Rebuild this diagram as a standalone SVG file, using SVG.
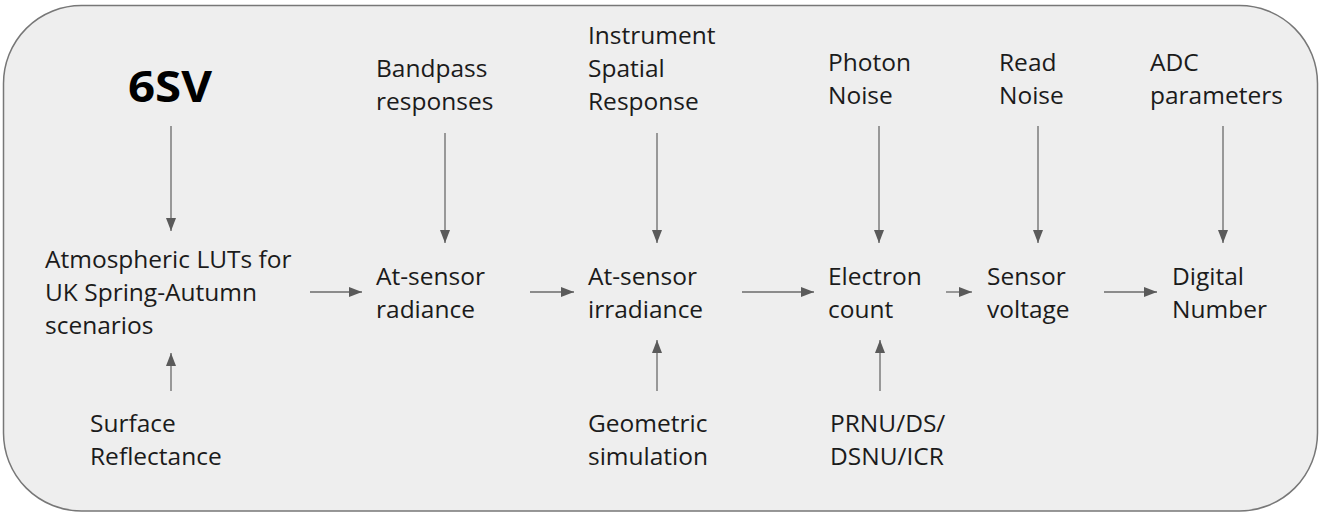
<svg xmlns="http://www.w3.org/2000/svg" width="1319" height="513" viewBox="0 0 1319 513">
<style>
.t{font-family:"Open Sans","Liberation Sans",sans-serif;font-size:24.5px;fill:#1b1b1b}
.b{font-family:"Open Sans","Liberation Sans",sans-serif;font-size:43px;font-weight:700;fill:#000}
.c{stroke:#6a6a6a;stroke-width:1.3;fill:none;marker-end:url(#ah)}
</style>
<defs>
<marker id="ah" markerUnits="userSpaceOnUse" markerWidth="13" markerHeight="10" refX="13" refY="5" orient="auto">
<path d="M0,0 L13,5 L0,10 z" fill="#5a5a5a"/>
</marker>
</defs>
<rect x="3.5" y="5.5" width="1314" height="505.5" rx="78" ry="78" fill="#eeeeee" stroke="#777" stroke-width="1.5"/>
<g id="connectors">
<line class="c" x1="171" y1="126" x2="171" y2="231"/>
<line class="c" x1="171" y1="391" x2="171" y2="353"/>
<line class="c" x1="445" y1="133" x2="445" y2="243"/>
<line class="c" x1="657" y1="133" x2="657" y2="243"/>
<line class="c" x1="879" y1="126" x2="879" y2="243"/>
<line class="c" x1="1038" y1="126" x2="1038" y2="243"/>
<line class="c" x1="1223" y1="126" x2="1223" y2="243"/>
<line class="c" x1="657" y1="391" x2="657" y2="340"/>
<line class="c" x1="880" y1="391" x2="880" y2="340"/>
<line class="c" x1="310" y1="292" x2="362" y2="292"/>
<line class="c" x1="530" y1="292" x2="574" y2="292"/>
<line class="c" x1="742" y1="292" x2="814" y2="292"/>
<line class="c" x1="946" y1="292" x2="972" y2="292"/>
<line class="c" x1="1104" y1="292" x2="1157" y2="292"/>
</g>
<g id="n6sv"><text class="b" x="128" y="102" textLength="84" lengthAdjust="spacingAndGlyphs">6SV</text></g>
<g id="bandpass"><text class="t"><tspan x="376" y="77">Bandpass</tspan><tspan x="376" y="110">responses</tspan></text></g>
<g id="isr"><text class="t"><tspan x="588" y="44">Instrument</tspan><tspan x="588" y="77">Spatial</tspan><tspan x="588" y="110">Response</tspan></text></g>
<g id="photon"><text class="t"><tspan x="828" y="71">Photon</tspan><tspan x="828" y="104">Noise</tspan></text></g>
<g id="read"><text class="t"><tspan x="999" y="71">Read</tspan><tspan x="999" y="104">Noise</tspan></text></g>
<g id="adc"><text class="t"><tspan x="1150" y="71">ADC</tspan><tspan x="1150" y="104">parameters</tspan></text></g>
<g id="luts"><text class="t"><tspan x="45" y="268">Atmospheric LUTs for</tspan><tspan x="45" y="301">UK Spring-Autumn</tspan><tspan x="45" y="334">scenarios</tspan></text></g>
<g id="radiance"><text class="t"><tspan x="376" y="285">At-sensor</tspan><tspan x="376" y="318">radiance</tspan></text></g>
<g id="irradiance"><text class="t"><tspan x="588" y="285">At-sensor</tspan><tspan x="588" y="318">irradiance</tspan></text></g>
<g id="electron"><text class="t"><tspan x="828" y="285">Electron</tspan><tspan x="828" y="318">count</tspan></text></g>
<g id="voltage"><text class="t"><tspan x="987" y="285">Sensor</tspan><tspan x="987" y="318">voltage</tspan></text></g>
<g id="dn"><text class="t"><tspan x="1172" y="285">Digital</tspan><tspan x="1172" y="318">Number</tspan></text></g>
<g id="surface"><text class="t"><tspan x="90" y="432">Surface</tspan><tspan x="90" y="465">Reflectance</tspan></text></g>
<g id="geometric"><text class="t"><tspan x="588" y="432">Geometric</tspan><tspan x="588" y="465">simulation</tspan></text></g>
<g id="prnu"><text class="t"><tspan x="830" y="432">PRNU/DS/</tspan><tspan x="830" y="465">DSNU/ICR</tspan></text></g>
</svg>
